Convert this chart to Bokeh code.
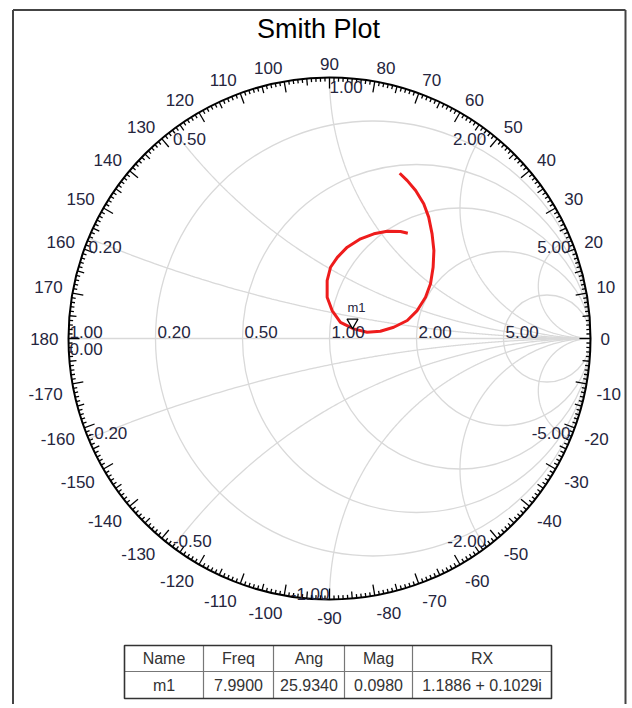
import numpy as np
from bokeh.plotting import figure
from bokeh.models import Range1d
from bokeh.core.properties import value
from bokeh.embed import file_html
from bokeh.resources import INLINE

# ---------------- data ----------------
TITLE = "Smith Plot"
R_CIRCLES = [0.2, 0.5, 1.0, 2.0, 5.0]
R_LABELS = ["0.20", "0.50", "1.00", "2.00", "5.00"]
X_ARCS = [0.2, 0.5, 1.0, 2.0, 5.0, -0.2, -0.5, -1.0, -2.0, -5.0]
X_LABELS = ["0.20", "0.50", "1.00", "2.00", "5.00",
            "-0.20", "-0.50", "-1.00", "-2.00", "-5.00"]
EDGE_LABELS = ["1.00", "0.00"]
ANGLE_LABELS = list(range(-170, 190, 10))

# reflection-coefficient trace (real / imaginary part of Gamma)
TRACE_RE = [0.269, 0.298, 0.330, 0.361, 0.380, 0.393, 0.400, 0.397, 0.387,
            0.368, 0.336, 0.298, 0.246, 0.195, 0.144, 0.093, 0.042, 0.010,
            -0.009, -0.009, 0.004, 0.030, 0.068, 0.119, 0.170, 0.221, 0.272,
            0.300]
TRACE_IM = [0.633, 0.605, 0.567, 0.516, 0.465, 0.401, 0.337, 0.273, 0.210,
            0.158, 0.107, 0.069, 0.043, 0.028, 0.024, 0.037, 0.062, 0.107,
            0.158, 0.222, 0.273, 0.311, 0.350, 0.382, 0.401, 0.411, 0.410,
            0.403]

TABLE_HEADER = ["Name", "Freq", "Ang", "Mag", "RX"]
MARKER_NAME = "m1"
MARKER_FREQ = 7.9900
MARKER_ANG = 25.9340
MARKER_MAG = 0.0980
MARKER_RX = "1.1886 + 0.1029i"

# ---------------- layout ----------------
W, H = 628, 704
S = 261.0              # pixels per unit of Gamma
CX, CY = 329.0, 338.0  # centre of chart inside the canvas (px)
FONT = value("Liberation Sans")
LBL = "#25253d"
GRID = "#d9d9d9"


def dx(px):
    return (px - CX) / S


def dy(py):
    return (CY - py) / S


p = figure(width=W, height=H, output_backend="svg", toolbar_location=None,
           x_range=Range1d(-CX / S, (W - CX) / S),
           y_range=Range1d(-(H - CY) / S, CY / S),
           x_axis_type=None, y_axis_type=None, min_border=0,
           background_fill_color="white", border_fill_color="white")
p.outline_line_color = None
p.xgrid.visible = False
p.ygrid.visible = False

# ---- grid: resistance circles ----
rc = np.array(R_CIRCLES)
p.circle(x=rc / (rc + 1), y=np.zeros_like(rc), radius=1 / (rc + 1),
         radius_units="data", fill_color=None, line_color=GRID, line_width=1.3)

# ---- grid: reactance arcs ----
rr = np.concatenate([np.linspace(0, 5, 400), np.logspace(np.log10(5.01), 5, 300)])
xs, ys = [], []
for xv in X_ARCS:
    g = (rr + 1j * xv - 1) / (rr + 1j * xv + 1)
    xs.append(list(g.real))
    ys.append(list(g.imag))
p.multi_line(xs, ys, line_color=GRID, line_width=1.3)
p.segment(x0=[-1], y0=[0], x1=[1], y1=[0], line_color=GRID, line_width=1.3)

# ---- outer circle + ticks ----
p.circle(x=[0], y=[0], radius=1, radius_units="data", fill_color=None,
         line_color="black", line_width=2)
deg = np.arange(-179, 181)
tlen = np.where(deg % 10 == 0, 11, np.where(deg % 5 == 0, 7, 4)) / S
th = np.radians(deg)
p.segment(x0=np.cos(th), y0=np.sin(th),
          x1=(1 - tlen) * np.cos(th), y1=(1 - tlen) * np.sin(th),
          line_color="black", line_width=1.3)

# ---- angle labels ----
ath = np.radians(np.array(ANGLE_LABELS))
rlab = 271 / S
for a, t in zip(ANGLE_LABELS, ath):
    c, s = np.cos(t), np.sin(t)
    align = "left" if c > 1e-6 else ("right" if c < -1e-6 else "center")
    yoff = -4 if s > 0.01 else (8 if s < -0.01 else 0)
    p.text(x=[rlab * c], y=[rlab * s], text=[str(a)], text_font=FONT,
           text_font_size="17px", text_color=LBL, text_align=align,
           text_baseline="middle", y_offset=yoff)

# ---- trace ----
p.line(TRACE_RE, TRACE_IM, line_color="#ee1c1c", line_width=3)

# ---- resistance labels ----
p.text(x=list((rc - 1) / (rc + 1)), y=[0] * len(rc), text=R_LABELS,
       text_font=FONT, text_font_size="17px", text_color=LBL,
       text_align="left", text_baseline="middle", x_offset=2, y_offset=-7)

# ---- edge labels at Gamma = -1 ----
p.text(x=[-1, -1], y=[0, 0], text=EDGE_LABELS, text_font=FONT,
       text_font_size="17px", text_color=LBL, text_align="left",
       text_baseline="middle", x_offset=1, y_offset=[-7, 10])

# ---- reactance labels ----
xa = np.array(X_ARCS)
gx = np.cos(np.pi - 2 * np.arctan(xa))
gy = np.sin(np.pi - 2 * np.arctan(xa))
for i, xv in enumerate(X_ARCS):
    left = gx[i] < -1e-9 or (abs(gx[i]) < 1e-9 and xv > 0)
    p.text(x=[gx[i]], y=[gy[i]], text=[X_LABELS[i]], text_font=FONT,
           text_font_size="17px", text_color=LBL,
           text_align="left" if left else "right",
           text_baseline="middle", y_offset=9 if xv > 0 else -6)

# ---- marker ----
mg = MARKER_MAG * np.exp(1j * np.radians(MARKER_ANG))
p.scatter(x=[mg.real], y=[mg.imag + 5 / S], marker="inverted_triangle", size=11,
          fill_color="white", line_color="black", line_width=1.2)
p.text(x=[mg.real], y=[mg.imag], text=[MARKER_NAME], text_font=FONT,
       text_font_size="13px", text_color=LBL, text_align="left",
       text_baseline="middle", x_offset=-5, y_offset=-20)

# ---- title ----
p.text(x=[dx(318)], y=[dy(28)], text=[TITLE], text_font=FONT,
       text_font_size="27px", text_color="black", text_align="center",
       text_baseline="middle")

# ---- table ----
cols = [124, 203, 273, 344, 412, 551]
rows = [645, 671, 698]
cells = [str(MARKER_NAME), f"{MARKER_FREQ:.4f}", f"{MARKER_ANG:.4f}",
         f"{MARKER_MAG:.4f}", MARKER_RX]
p.segment(x0=[dx(c) for c in cols[1:-1]], y0=[dy(rows[0])] * 4,
          x1=[dx(c) for c in cols[1:-1]], y1=[dy(rows[2])] * 4,
          line_color="#777777", line_width=1.2)
p.segment(x0=[dx(cols[0])], y0=[dy(rows[1])], x1=[dx(cols[-1])], y1=[dy(rows[1])],
          line_color="#777777", line_width=1.2)
p.quad(left=[dx(cols[0])], right=[dx(cols[-1])], top=[dy(rows[0])],
       bottom=[dy(rows[2])], fill_color=None, line_color="#333333", line_width=1.6)
cxs = [dx((cols[i] + cols[i + 1]) / 2) for i in range(5)]
p.text(x=cxs, y=[dy((rows[0] + rows[1]) / 2)] * 5, text=TABLE_HEADER,
       text_font=FONT, text_font_size="16px", text_color="#333333",
       text_align="center", text_baseline="middle")
p.text(x=cxs, y=[dy((rows[1] + rows[2]) / 2)] * 5, text=cells,
       text_font=FONT, text_font_size="16px", text_color="#333333",
       text_align="center", text_baseline="middle")

# ---- frame ----
p.segment(x0=[dx(12.5), dx(12.5), dx(625)], y0=[dy(9.5), dy(9.5), dy(9.5)],
          x1=[dx(625), dx(12.5), dx(625)], y1=[dy(9.5), dy(720), dy(720)],
          line_color="#444444", line_width=2)

open("out.html", "w").write(file_html(p, INLINE))
